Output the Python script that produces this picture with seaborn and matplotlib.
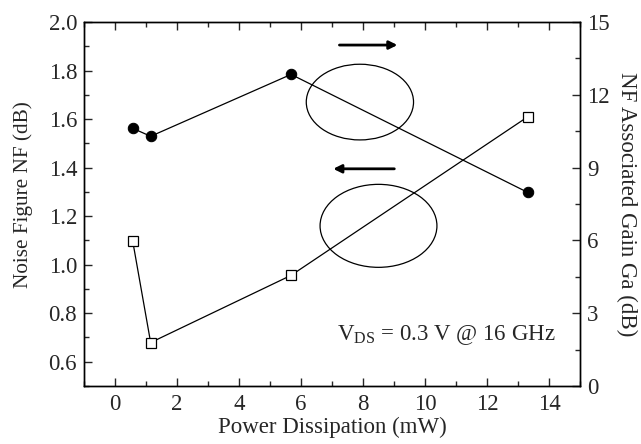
import matplotlib
matplotlib.use("Agg")
import matplotlib.pyplot as plt
from matplotlib.patches import Ellipse
from matplotlib.ticker import MultipleLocator
import seaborn as sns
import pandas as pd

power_nf = [0.57, 1.15, 5.68, 13.31]
nf_values = [1.562, 1.529, 1.784, 1.298]
power_ga = [0.57, 1.15, 5.68, 13.31]
ga_values = [5.98, 1.79, 4.56, 11.09]

sns.set_theme(style="ticks")
plt.rcParams['font.family'] = ['Liberation Serif', 'DejaVu Serif']
plt.rcParams['mathtext.fontset'] = 'custom'
plt.rcParams['mathtext.rm'] = 'Liberation Serif'

fig = plt.figure(figsize=(6.41, 4.44), dpi=100)
ax = fig.add_axes([84/641, 1-386/444, (580-84)/641, (386-22)/444])
ax2 = ax.twinx()

df_nf = pd.DataFrame({"x": power_nf, "y": nf_values})
df_ga = pd.DataFrame({"x": power_ga, "y": ga_values})

sns.lineplot(data=df_nf, x="x", y="y", ax=ax, sort=False, color="black", lw=0.9,
             marker="o", markersize=7.5, markerfacecolor="black", markeredgecolor="black")
sns.lineplot(data=df_ga, x="x", y="y", ax=ax2, sort=False, color="black", lw=0.9,
             marker="s", markersize=6.5, markerfacecolor="white", markeredgecolor="black",
             markeredgewidth=0.9)

ax.set_xlim(-1, 15)
ax.set_ylim(0.5, 2.0)
ax2.set_ylim(0, 15)
ax.xaxis.set_major_locator(MultipleLocator(2))
ax.xaxis.set_minor_locator(MultipleLocator(1))
ax.yaxis.set_minor_locator(MultipleLocator(0.1))
ax.set_yticks([0.6, 0.8, 1.0, 1.2, 1.4, 1.6, 1.8, 2.0])
ax.set_yticklabels(["0.6", "0.8", "1.0", "1.2", "1.4", "1.6", "1.8", "2.0"])
ax2.yaxis.set_major_locator(MultipleLocator(3))
ax2.yaxis.set_minor_locator(MultipleLocator(1.5))

fs = 16.5
ax.tick_params(axis="x", which="both", direction="in", top=True, labelsize=fs, pad=6)
ax.tick_params(axis="y", which="both", direction="in", left=True, right=False, labelsize=fs, pad=5)
ax2.tick_params(axis="y", which="both", direction="in", right=True, labelsize=fs, pad=5)
for a in (ax, ax2):
    a.tick_params(which="major", length=6, width=1.0)
    a.tick_params(which="minor", length=3.5, width=1.0)
    for s in a.spines.values():
        s.set_linewidth(1.0)
        s.set_color("black")

ax.set_xlabel("Power Dissipation (mW)", fontsize=fs, labelpad=1)
ax.set_ylabel("Noise Figure NF (dB)", fontsize=15.3)
ax.yaxis.set_label_coords(-0.103, 0.525)
ax2.set_ylabel("NF Associated Gain Ga (dB)", fontsize=fs, rotation=270, labelpad=20)

# annotations
ax.add_patch(Ellipse((7.9, 1.67), 3.46, 75.7/242.7, fill=False, lw=0.9, color="black"))
ax.add_patch(Ellipse((8.5, 1.16), 3.77, 83/242.7, fill=False, lw=0.9, color="black"))
ax.annotate("", xy=(9.2, 1.905), xytext=(7.15, 1.905),
            arrowprops=dict(arrowstyle="-|>", color="black", lw=2, mutation_scale=12))
ax.annotate("", xy=(6.95, 1.395), xytext=(9.1, 1.395),
            arrowprops=dict(arrowstyle="-|>", color="black", lw=2, mutation_scale=12))
ax.text(7.15, 0.71, r"V$_{\mathregular{DS}}$ = 0.3 V @ 16 GHz", fontsize=fs, va="center", ha="left")

fig.savefig("out.png", dpi=100)
